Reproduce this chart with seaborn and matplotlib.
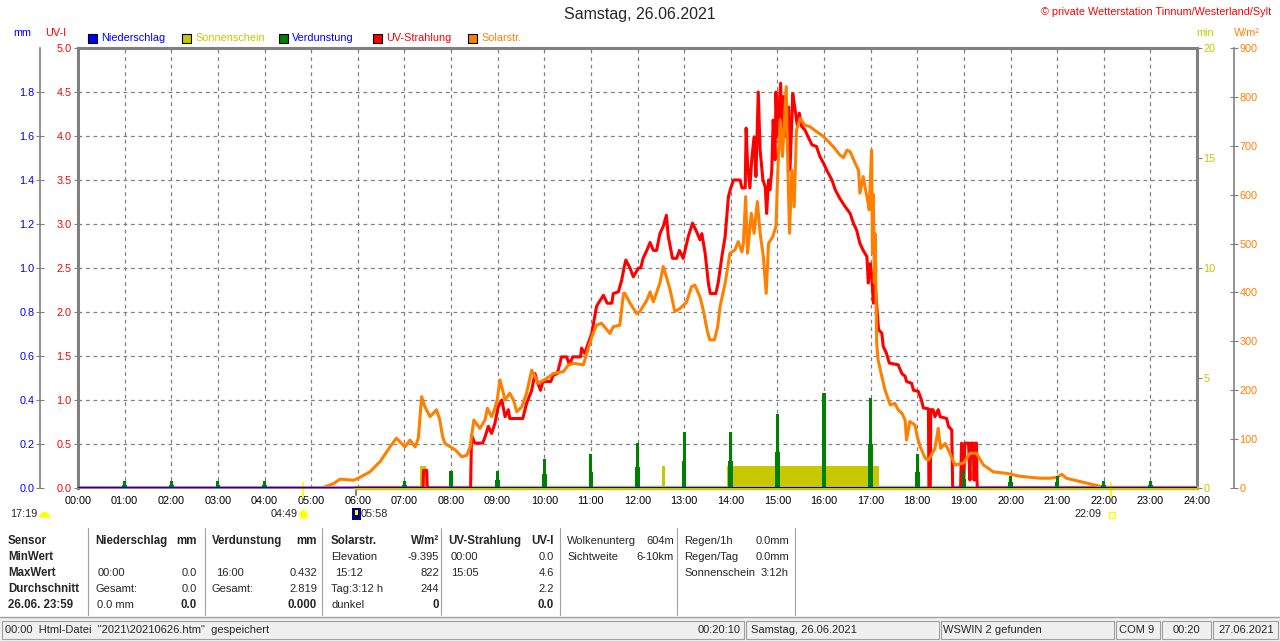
import matplotlib
matplotlib.use('Agg')
import matplotlib.pyplot as plt
import matplotlib.transforms as mtransforms
from matplotlib.patches import Rectangle
from matplotlib.lines import Line2D
import seaborn as sns

W, H = 1280, 641

# ---------------- data ----------------
hour_ticks = list(range(25))
hour_labels = ['%02d:00' % h for h in hour_ticks]
uv_ticks = [0.0, 0.5, 1.0, 1.5, 2.0, 2.5, 3.0, 3.5, 4.0, 4.5, 5.0]
mm_ticks = [0.0, 0.2, 0.4, 0.6, 0.8, 1.0, 1.2, 1.4, 1.6, 1.8]
min_ticks = [0, 5, 10, 15, 20]
min_minor = [2, 4, 6, 8, 10, 12, 14, 16, 18]
wm2_ticks = [0, 100, 200, 300, 400, 500, 600, 700, 800, 900]

# Verdunstung (mm) per hour
evap_time = [1, 2, 3, 4, 7, 8, 9, 10, 11, 12, 13, 14, 15, 16, 17, 18, 19, 20, 21, 22, 23]
evap_mm = [0.03, 0.03, 0.03, 0.03, 0.03, 0.077, 0.077, 0.13, 0.155, 0.205, 0.255,
           0.255, 0.336, 0.432, 0.41, 0.155, 0.08, 0.055, 0.055, 0.03, 0.03]
evap_low = [0.015, 0.015, 0.015, 0.015, 0.015, 0.033, 0.035, 0.063, 0.075, 0.097, 0.123,
            0.125, 0.165, 0.21, 0.2, 0.075, 0.04, 0.027, 0.027, 0.015, 0.015]

# Sonnenschein (min)
sun_start = [7.34, 12.52, 13.92]
sun_end = [7.47, 12.59, 17.19]
sun_minutes = [1.0, 1.0, 1.0]

# UV-Strahlung (UV-I)
uv_time = [0, 7.40, 7.41, 7.48, 7.49, 8.42, 8.44, 8.51, 8.68, 8.73, 8.80, 8.87, 8.94, 9.01,
           9.09, 9.16, 9.23, 9.26, 9.54, 9.62, 9.73, 9.80, 9.85, 9.92, 9.97, 10.14, 10.19,
           10.28, 10.37, 10.48, 10.54, 10.61, 10.78, 10.80, 10.87, 10.92, 11.02, 11.12,
           11.16, 11.27, 11.35, 11.45, 11.48, 11.59, 11.66, 11.71, 11.75, 11.84, 11.91,
           12.02, 12.07, 12.12, 12.20, 12.27, 12.34, 12.41, 12.48, 12.55, 12.62, 12.66,
           12.75, 12.84, 12.90, 12.98, 13.09, 13.18, 13.27, 13.34, 13.38, 13.45, 13.52,
           13.56, 13.68, 13.73, 13.81, 13.88, 13.95, 14.00, 14.06, 14.20, 14.24, 14.31,
           14.33, 14.36, 14.41, 14.45, 14.50, 14.54, 14.59, 14.63, 14.69, 14.74, 14.77,
           14.81, 14.84, 14.88, 14.91, 14.95, 14.97, 15.00, 15.04, 15.07, 15.10, 15.14,
           15.19, 15.24, 15.27, 15.33, 15.38, 15.43, 15.47, 15.52, 15.59, 15.66, 15.74,
           15.84, 15.91, 15.99, 16.06, 16.17, 16.24, 16.34, 16.45, 16.56, 16.63, 16.70,
           16.77, 16.84, 16.92, 16.95, 16.99, 17.02, 17.06, 17.09, 17.14, 17.17, 17.24,
           17.27, 17.34, 17.40, 17.59, 17.67, 17.74, 17.77, 17.88, 17.92, 18.02, 18.09,
           18.13, 18.24, 18.25, 18.28, 18.29, 18.34, 18.38, 18.45, 18.49, 18.63, 18.67,
           18.74, 18.76, 18.93, 18.95, 19.00, 19.02, 19.10, 19.13, 19.15, 19.20, 19.22,
           19.24, 19.27, 19.28, 19.29, 24]
uv_index = [0, 0, 0.20, 0.20, 0, 0, 0.60, 0.51, 0.51, 0.58, 0.70, 0.62, 0.73, 0.92,
            1.00, 0.81, 0.89, 0.79, 0.79, 0.96, 1.11, 1.30, 1.21, 1.11, 1.21, 1.21, 1.28,
            1.30, 1.49, 1.49, 1.40, 1.49, 1.49, 1.59, 1.53, 1.61, 1.76, 2.06,
            2.10, 2.19, 2.10, 2.10, 2.21, 2.23, 2.36, 2.50, 2.59, 2.50, 2.40,
            2.50, 2.50, 2.61, 2.70, 2.79, 2.70, 2.70, 2.89, 2.97, 3.10, 2.86,
            2.61, 2.61, 2.70, 2.61, 2.86, 3.01, 2.91, 2.82, 2.89, 2.67, 2.33,
            2.21, 2.21, 2.33, 2.63, 2.86, 3.31, 3.41, 3.50, 3.50, 3.41, 3.41,
            4.09, 3.69, 3.41, 3.73, 3.99, 3.54, 4.50, 3.84, 3.50, 3.42, 3.12,
            3.50, 3.39, 3.61, 4.18, 3.73, 4.50, 3.99, 4.33, 4.60, 4.07, 4.45,
            3.99, 4.33, 3.61, 4.48, 4.30, 4.11, 4.26, 4.11, 4.07, 3.99, 3.90,
            3.88, 3.77, 3.69, 3.61, 3.50, 3.39, 3.29, 3.20, 3.12, 3.01, 2.93,
            2.78, 2.70, 2.63, 2.33, 2.55, 2.44, 2.10, 2.36, 2.02, 1.80, 1.76,
            1.61, 1.53, 1.42, 1.40, 1.30, 1.27, 1.21, 1.19, 1.11, 1.10, 1.00,
            0.91, 0.90, 0, 0, 0.89, 0.89, 0.81, 0.89, 0.81, 0.79, 0.70,
            0.66, 0, 0, 0.51, 0.09, 0.51, 0.51, 0.09, 0.51, 0.51, 0.09,
            0.51, 0.51, 0.09, 0, 0]

# Solarstrahlung (W/m2)
solar_time = [0, 5.23, 5.48, 5.62, 5.91, 6.01, 6.26, 6.48, 6.69, 6.83, 7.01, 7.12, 7.23,
              7.30, 7.37, 7.44, 7.55, 7.69, 7.76, 7.82, 7.87, 8.09, 8.23, 8.34, 8.41,
              8.49, 8.62, 8.73, 8.78, 8.87, 8.94, 8.99, 9.05, 9.16, 9.26, 9.34, 9.41,
              9.52, 9.62, 9.73, 9.80, 9.87, 10.05, 10.19, 10.41, 10.52, 10.62, 10.84,
              10.91, 11.02, 11.12, 11.23, 11.41, 11.48, 11.62, 11.70, 11.73, 11.84,
              11.98, 12.05, 12.20, 12.27, 12.34, 12.48, 12.55, 12.62, 12.70, 12.80,
              12.91, 13.05, 13.16, 13.23, 13.34, 13.41, 13.50, 13.55, 13.65, 13.72,
              13.77, 13.88, 13.95, 13.98, 14.09, 14.16, 14.24, 14.27, 14.32, 14.36,
              14.44, 14.50, 14.57, 14.63, 14.70, 14.76, 14.81, 14.90, 14.97, 15.01,
              15.06, 15.11, 15.19, 15.21, 15.26, 15.31, 15.36, 15.41, 15.49, 15.59,
              15.70, 15.84, 15.99, 16.20, 16.34, 16.42, 16.49, 16.56, 16.67, 16.74,
              16.77, 16.84, 16.92, 16.97, 17.02, 17.04, 17.06, 17.08, 17.10, 17.13,
              17.16, 17.24, 17.31, 17.42, 17.52, 17.59, 17.67, 17.74, 17.77, 17.84,
              17.95, 18.00, 18.06, 18.17, 18.24, 18.38, 18.45, 18.50, 18.60, 18.70,
              18.81, 18.99, 19.13, 19.27, 19.42, 19.63, 19.92, 20.20, 20.63, 20.85,
              21.00, 21.10, 21.20, 21.37, 21.55, 21.73, 21.90, 21.95, 24]
solar_wm2 = [0, 0, 9, 18, 16, 20, 33, 54, 84, 102, 84, 98, 84,
             102, 187, 166, 146, 160, 139, 105, 91, 78, 64, 67, 84,
             139, 122, 139, 163, 146, 163, 180, 221, 180, 194, 180, 156,
             166, 194, 241, 228, 214, 224, 234, 238, 252, 255, 252,
             275, 309, 333, 337, 316, 330, 333, 398, 398, 378,
             357, 361, 384, 401, 381, 419, 453, 432, 405, 361,
             367, 380, 412, 415, 391, 364, 320, 303, 303, 330,
             371, 419, 460, 480, 487, 504, 483, 500, 596, 480,
             562, 521, 586, 521, 473, 398, 500, 514, 535, 650,
             753, 678, 821, 719, 521, 650, 575, 732, 756, 742,
             739, 729, 719, 698, 681, 676, 691, 688, 664, 650,
             603, 637, 596, 569, 691, 480, 600, 420, 520, 296,
             262, 228, 200, 170, 173, 160, 153, 139, 98, 136,
             129, 105, 85, 61, 57, 81, 122, 81, 91, 71,
             47, 51, 71, 71, 47, 33, 30, 24, 20, 20,
             22, 28, 20, 16, 12, 8, 4, 0, 0]

sunrise = 4 + 49 / 60
sunset = 22 + 9 / 60
sensor_on = 5 + 58 / 60

# ---------------- style ----------------
sns.set_style('white')
plt.rcParams['font.family'] = ['Liberation Sans', 'DejaVu Sans']

GRAY = '#808080'
OLIVE = '#c8c800'
ORANGE = '#ff8000'
FS = 7.8


def fx(x):
    return x / W


def fy(y):
    return 1 - y / H


fig = plt.figure(figsize=(W / 100, H / 100), dpi=100)
ax = fig.add_axes([fx(78), fy(488), 1119 / W, 440 / H])
ax.set_zorder(0)
ax.set_facecolor('white')

ax_min = ax.twinx()
ax_uv = ax.twinx()
ax_w = ax.twinx()
ax_mm = ax.twinx()
for i, a in enumerate([ax_min, ax_uv, ax_w, ax_mm]):
    a.set_zorder(i + 1)
    a.patch.set_visible(False)
    for s in a.spines.values():
        s.set_visible(False)

ax.set_xlim(0, 24)
ax.set_ylim(0, 5)
ax_min.set_ylim(0, 20)
ax_uv.set_ylim(0, 5)
ax_w.set_ylim(0, 900)
ax_mm.set_ylim(0, 2.0)

# grid + frame
ax.set_xticks(hour_ticks, hour_labels)
ax.set_yticks(uv_ticks, ['%.1f' % v for v in uv_ticks])
ax.grid(True, color=GRAY, ls=(0, (3, 3)), lw=0.9)
ax.tick_params(axis='x', length=0, pad=6, labelsize=FS, labelcolor='black')
ax.tick_params(axis='y', length=3, width=0.8, color=GRAY, pad=1.5, labelsize=FS,
               labelcolor='red', direction='out')
for side in ['left', 'top', 'right']:
    ax.spines[side].set_color(GRAY)
    ax.spines[side].set_linewidth(2.2)
ax.spines['bottom'].set_color(GRAY)
ax.spines['bottom'].set_linewidth(0.8)

# min axis on right frame
ax_min.set_yticks(min_ticks)
ax_min.set_yticks(min_minor, minor=True)
ax_min.tick_params(axis='y', which='major', length=3.5, width=0.8, color=GRAY,
                   direction='out', labelsize=FS, labelcolor=OLIVE, pad=1)
ax_min.tick_params(axis='y', which='minor', length=3, width=0.8, color=GRAY,
                   direction='in')

# W/m2 axis
ax_w.spines['right'].set_visible(True)
ax_w.spines['right'].set_position(('axes', 1156 / 1119))
ax_w.spines['right'].set_color(GRAY)
ax_w.spines['right'].set_linewidth(1.2)
ax_w.set_yticks(wm2_ticks)
ax_w.tick_params(axis='y', length=6, width=0.8, color=GRAY, direction='inout',
                 labelsize=FS, labelcolor=ORANGE, pad=1)

# mm axis
ax_mm.yaxis.tick_left()
ax_mm.spines['left'].set_visible(True)
ax_mm.spines['left'].set_position(('axes', -38 / 1119))
ax_mm.spines['left'].set_color(GRAY)
ax_mm.spines['left'].set_linewidth(1.2)
ax_mm.set_yticks(mm_ticks, ['%.1f' % v for v in mm_ticks])
ax_mm.tick_params(axis='y', length=6, width=0.8, color=GRAY, direction='inout',
                  labelsize=FS, labelcolor='blue', pad=1)
ax_uv.set_yticks([])

# ---------------- series ----------------
sun_width = [e - s for s, e in zip(sun_start, sun_end)]
ax_min.bar(sun_start, sun_minutes, width=sun_width, align='edge', color=OLIVE, lw=0)
ax_min.plot([sensor_on, 24], [0, 0], color=OLIVE, lw=3.2, clip_on=False, zorder=1)

sns.lineplot(x=uv_time, y=uv_index, ax=ax_uv, color='#ff0000', lw=2.2,
             estimator=None, sort=False, legend=False)
sns.lineplot(x=solar_time, y=solar_wm2, ax=ax_w, color=ORANGE, lw=2.2,
             estimator=None, sort=False, legend=False)

ax_mm.bar(evap_time, evap_low, width=0.1, color='#008000', lw=0)
ax_mm.bar(evap_time, evap_mm, width=0.065, color='#008000', lw=0)
ax_mm.plot([0, 24], [0, 0], color='#0000ff', lw=2.2, zorder=5)

ax.set_xlabel('')
ax.set_ylabel('')
for a in [ax_min, ax_uv, ax_w, ax_mm]:
    a.set_ylabel('')

# sunrise / sunset marks
trans = mtransforms.blended_transform_factory(ax.transData, fig.transFigure)
for t in [sunrise, sunset]:
    ax.plot([t, t], [fy(483), fy(497)], transform=trans, color='#ffff00', lw=1.5,
            clip_on=False)
ax.plot([sunrise], [fy(514)], transform=trans, marker='o', ms=6, color='#ffff00',
        mec='#ffff60', clip_on=False)
ax.annotate('04:49', xy=(sunrise, fy(514)), xycoords=trans, xytext=(-5, 0),
            textcoords='offset pixels', ha='right', va='center', fontsize=FS)
ax.plot([sensor_on, sensor_on], [fy(488), fy(495)], transform=trans, color=GRAY,
        lw=1.5, clip_on=False)
fig.add_artist(Rectangle((fx(352), fy(520)), 9 / W, 12 / H, transform=fig.transFigure,
                         facecolor='#000080', edgecolor='none'))
fig.add_artist(Rectangle((fx(355), fy(515)), 3 / W, 5 / H, transform=fig.transFigure,
                         facecolor='#ffff00', edgecolor='none'))
ax.annotate('05:58', xy=(sensor_on, fy(514)), xycoords=trans, xytext=(4, 0),
            textcoords='offset pixels', ha='left', va='center', fontsize=FS)
ax.annotate('22:09', xy=(sunset, fy(514)), xycoords=trans, xytext=(-9, 0),
            textcoords='offset pixels', ha='right', va='center', fontsize=FS)
fig.add_artist(Rectangle((fx(1109), fy(518)), 6 / W, 6 / H, transform=fig.transFigure,
                         facecolor='none', edgecolor='#ffff00', lw=1))
fig.text(fx(10), fy(514), '17:19', ha='left', va='center', fontsize=FS)
fig.add_artist(Line2D([fx(44)], [fy(517)], transform=fig.transFigure, marker='o', ms=8,
                      fillstyle='top', markerfacecolor='#ffff00',
                      markerfacecoloralt='none', markeredgecolor='none'))

# ---------------- header ----------------
fig.text(fx(640), fy(15), 'Samstag, 26.06.2021', ha='center', va='center', fontsize=11.5)
fig.text(fx(1271), fy(12), '\u00a9 private Wetterstation Tinnum/Westerland/Sylt',
         ha='right', va='center', color='red', fontsize=7.8)
fig.text(fx(22), fy(33), 'mm', ha='center', va='center', color='blue', fontsize=FS)
fig.text(fx(56), fy(33), 'UV-I', ha='center', va='center', color='red', fontsize=FS)
fig.text(fx(1205), fy(33), 'min', ha='center', va='center', color=OLIVE, fontsize=FS)
fig.text(fx(1247), fy(33), 'W/m\u00b2', ha='center', va='center', color=ORANGE, fontsize=FS)

legend_names = ['Niederschlag', 'Sonnenschein', 'Verdunstung', 'UV-Strahlung', 'Solarstr.']
legend_fill = ['#0000ff', OLIVE, '#008000', '#ff0000', ORANGE]
legend_text = ['#0000ff', OLIVE, '#0000ff', '#ff0000', ORANGE]
legend_x = [88, 182, 279, 373, 468]
for name, fc, tc, x in zip(legend_names, legend_fill, legend_text, legend_x):
    fig.add_artist(Rectangle((fx(x), fy(43)), 9 / W, 9 / H, transform=fig.transFigure,
                             facecolor=fc, edgecolor='black', lw=0.8))
    fig.text(fx(x + 13), fy(38), name, ha='left', va='center', color=tc, fontsize=FS)

# ---------------- table ----------------
rows_y = [541, 557, 573, 589, 605]
table = [
    (8, 0, 'Sensor', 'left', True), (8, 1, 'MinWert', 'left', True),
    (8, 2, 'MaxWert', 'left', True), (8, 3, 'Durchschnitt', 'left', True),
    (8, 4, '26.06. 23:59', 'left', True),
    (95, 0, 'Niederschlag', 'left', True), (197, 0, 'mm', 'right', True),
    (98, 2, '00:00', 'left', False), (197, 2, '0.0', 'right', False),
    (95, 3, 'Gesamt:', 'left', False), (197, 3, '0.0', 'right', False),
    (97, 4, '0.0 mm', 'left', False), (197, 4, '0.0', 'right', True),
    (212, 0, 'Verdunstung', 'left', True), (317, 0, 'mm', 'right', True),
    (216, 2, '16:00', 'left', False), (317, 2, '0.432', 'right', False),
    (212, 3, 'Gesamt:', 'left', False), (317, 3, '2.819', 'right', False),
    (317, 4, '0.000', 'right', True),
    (331, 0, 'Solarstr.', 'left', True), (439, 0, 'W/m\u00b2', 'right', True),
    (331, 1, 'Elevation', 'left', False), (439, 1, '-9.395', 'right', False),
    (335, 2, '15:12', 'left', False), (439, 2, '822', 'right', False),
    (331, 3, 'Tag:3:12 h', 'left', False), (439, 3, '244', 'right', False),
    (331, 4, 'dunkel', 'left', False), (439, 4, '0', 'right', True),
    (448, 0, 'UV-Strahlung', 'left', True), (554, 0, 'UV-I', 'right', True),
    (451, 1, '00:00', 'left', False), (554, 1, '0.0', 'right', False),
    (451, 2, '15:05', 'left', False), (554, 2, '4.6', 'right', False),
    (554, 3, '2.2', 'right', False), (554, 4, '0.0', 'right', True),
    (567, 0, 'Wolkenunterg', 'left', False), (674, 0, '604m', 'right', False),
    (567, 1, 'Sichtweite', 'left', False), (674, 1, '6-10km', 'right', False),
    (684, 0, 'Regen/1h', 'left', False), (789, 0, '0.0mm', 'right', False),
    (684, 1, 'Regen/Tag', 'left', False), (789, 1, '0.0mm', 'right', False),
    (684, 2, 'Sonnenschein', 'left', False), (789, 2, '3:12h', 'right', False),
]
for x, r, txt, ha, bold in table:
    fig.text(fx(x), fy(rows_y[r]), txt, ha=ha, va='center',
             fontsize=8.3 if bold else 8, fontweight='bold' if bold else 'normal')

for x in [88, 205, 322, 441, 560, 677, 795]:
    fig.add_artist(Line2D([fx(x), fx(x)], [fy(528), fy(615)], transform=fig.transFigure,
                          color='#a0a0a0', lw=0.8))

# ---------------- status bar ----------------
fig.add_artist(Rectangle((0, 0), 1, fy(617), transform=fig.transFigure,
                         facecolor='#f0f0f0', edgecolor='none'))
fig.add_artist(Line2D([0, 1], [fy(617), fy(617)], transform=fig.transFigure,
                      color='#a0a0a0', lw=1))
panels = [(2, 744), (746, 939), (941, 1114), (1116, 1160), (1162, 1211), (1213, 1278)]
for x0, x1 in panels:
    fig.add_artist(Rectangle((fx(x0), fy(639)), (x1 - x0) / W, 18 / H,
                             transform=fig.transFigure, facecolor='none',
                             edgecolor='#a0a0a0', lw=0.8))
status = [
    (5, 'left', '00:00  Html-Datei  "2021\\20210626.htm"  gespeichert'),
    (741, 'right', '00:20:10'), (751, 'left', 'Samstag, 26.06.2021'),
    (943, 'left', 'WSWIN 2 gefunden'), (1119, 'left', 'COM 9'),
    (1173, 'left', '00:20'), (1218, 'left', '27.06.2021'),
]
for x, ha, txt in status:
    fig.text(fx(x), fy(630), txt, ha=ha, va='center', fontsize=8)

fig.savefig('out.png', dpi=100)
